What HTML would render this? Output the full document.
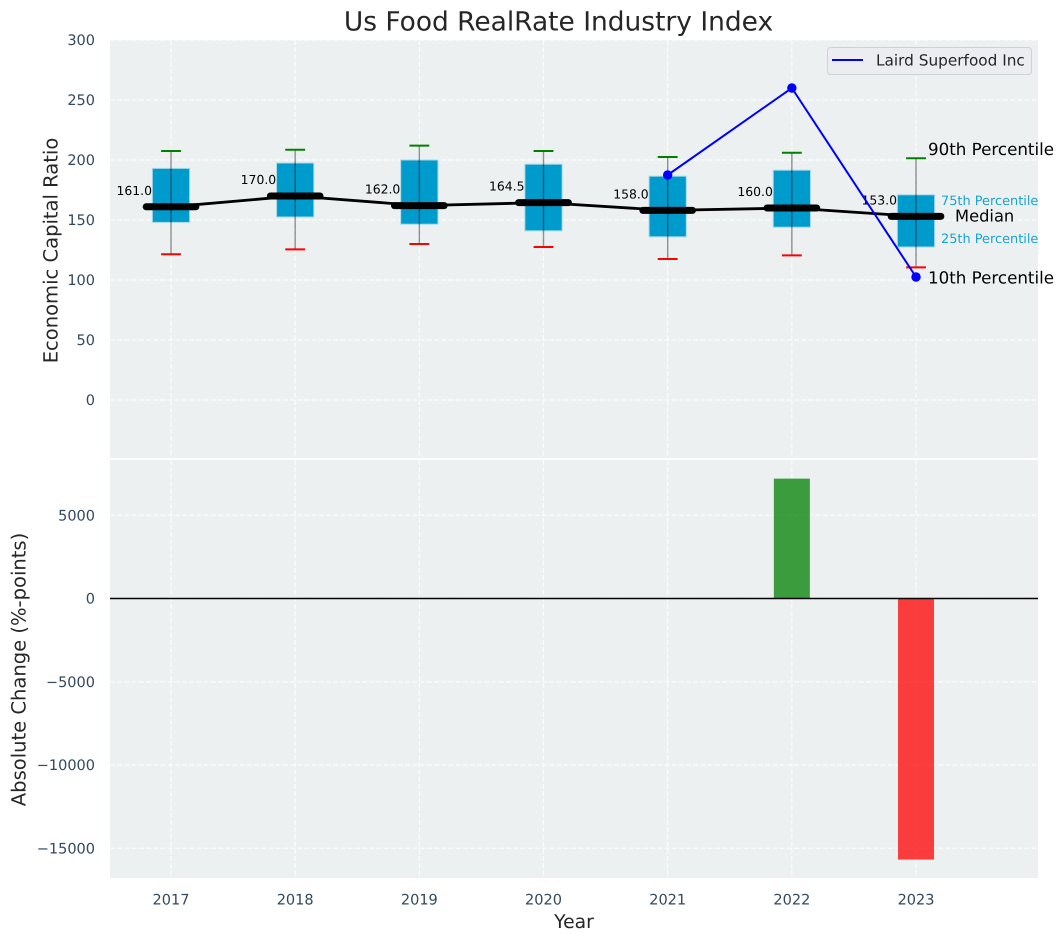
<!DOCTYPE html>
<html lang="en">
<head>
<meta charset="utf-8">
<title>Us Food RealRate Industry Index</title>
<style>
html,body{margin:0;padding:0;background:#fff;width:1063px;height:942px;overflow:hidden}
svg{display:block}
text{font-family:"DejaVu Sans","Liberation Sans",sans-serif;text-rendering:geometricPrecision}
</style>
</head>
<body>
<svg id="chart" xmlns="http://www.w3.org/2000/svg" width="1063" height="942" viewBox="0 0 1063 942">
  <rect x="0" y="0" width="1063" height="942" fill="#ffffff"/>
  <rect x="110" y="40" width="928" height="418" fill="#ecf0f1"/>
  <rect x="110" y="460" width="928" height="418" fill="#ecf0f1"/>
  <g id="grid"></g>
  <g id="boxes"></g>
  <g id="lines"></g>
  <g id="bars"></g>
  <g id="labels"></g>
  <text x="558.5" y="22" font-size="26.45" fill="#262626" text-anchor="middle" dominant-baseline="central">Us Food RealRate Industry Index</text>
  <text x="574" y="922.5" font-size="18.8" fill="#262626" text-anchor="middle" dominant-baseline="central">Year</text>
  <text transform="translate(51 250.5) rotate(-90)" font-size="19.55" fill="#262626" text-anchor="middle" dominant-baseline="central">Economic Capital Ratio</text>
  <text transform="translate(19 669.5) rotate(-90)" font-size="19.55" fill="#262626" text-anchor="middle" dominant-baseline="central">Absolute Change (%-points)</text>
  <g>
    <rect x="827.5" y="47.5" width="204" height="27" rx="3" fill="#ebedf0" stroke="#cfd1d4" stroke-width="1"/>
    <line x1="832" y1="60" x2="863" y2="60" stroke="#0000ff" stroke-width="2"/>
    <text x="876" y="60.5" font-size="15.3" fill="#262626" dominant-baseline="central">Laird Superfood Inc</text>
  </g>
  <g id="annotations"></g>
</svg>
<script>
const years = [2017, 2018, 2019, 2020, 2021, 2022, 2023];
const p90 = [207.5, 208.5, 212, 207.5, 202.5, 206, 201.5];
const p75 = [193, 197.5, 200, 196.5, 186.5, 191.5, 171];
const medians = [161, 170, 162, 164.5, 158, 160, 153];
const p25 = [148, 152.5, 146.5, 141, 136, 144, 127.5];
const p10 = [121.5, 125.5, 130, 127.5, 117.5, 120.5, 110.5];
const lairdValues = [null, null, null, null, 187.5, 260, 102.5];
const changes = [null, null, null, null, null, 7200, -15680];
const topTicks = [0, 50, 100, 150, 200, 250, 300];
const bottomTicks = [5000, 0, -5000, -10000, -15000];

const SVGNS = 'http://www.w3.org/2000/svg';
function xScale(v) { return 171 + (v - 2017) * 124.17; }
function yTop(v) { return 400 - v * 1.2; }
function yBottom(v) { return 598.5 - v * 0.01665; }
function mk(parent, tag, attrs, txt) {
  const el = document.createElementNS(SVGNS, tag);
  for (const k in attrs) el.setAttribute(k, attrs[k]);
  if (txt !== undefined) el.textContent = txt;
  parent.appendChild(el);
  return el;
}
function fmtTick(v) { return v < 0 ? '\u2212' + Math.abs(v) : String(v); }

const grid = document.getElementById('grid');
const boxes = document.getElementById('boxes');
const lines = document.getElementById('lines');
const bars = document.getElementById('bars');
const labels = document.getElementById('labels');
const annotations = document.getElementById('annotations');
const gridStyle = { stroke: '#ffffff', 'stroke-opacity': 0.8, 'stroke-width': 1.2, 'stroke-dasharray': '5 2.2', fill: 'none' };
const tickColor = '#34495e';

years.forEach(function (yr) {
  const x = xScale(yr);
  const g1 = mk(grid, 'line', Object.assign({ x1: x, x2: x, y1: 40, y2: 458 }, gridStyle));
  
  
  const g2 = mk(grid, 'line', Object.assign({ x1: x, x2: x, y1: 460, y2: 878 }, gridStyle));
  
  
  const t = mk(labels, 'text', { x: x, y: 900.5, 'font-size': 14.5, fill: tickColor, 'text-anchor': 'middle', 'dominant-baseline': 'central' }, String(yr));
  
  
});

topTicks.forEach(function (v) {
  const y = yTop(v);
  const g = mk(grid, 'line', Object.assign({ x1: 110, x2: 1038, y1: y, y2: y }, gridStyle));
  
  
  const t = mk(labels, 'text', { x: 95, y: y + 1, 'font-size': 14.5, fill: tickColor, 'text-anchor': 'end', 'dominant-baseline': 'central' }, fmtTick(v));
  
  
});

bottomTicks.forEach(function (v) {
  const y = yBottom(v);
  const g = mk(grid, 'line', Object.assign({ x1: 110, x2: 1038, y1: y, y2: y }, gridStyle));
  
  
  const t = mk(labels, 'text', { x: 95, y: y + 1, 'font-size': 14.5, fill: tickColor, 'text-anchor': 'end', 'dominant-baseline': 'central' }, fmtTick(v));
  
  
});

const BOX_HALF = 0.15, CAP_HALF = 0.08, MED_HALF = 0.2;
const px = function (d) { return d * 124.17; };

years.forEach(function (yr, i) {
  const x = xScale(yr);
  const box = mk(boxes, 'rect', {
    x: x - px(BOX_HALF), y: yTop(p75[i]), width: px(2 * BOX_HALF), height: yTop(p25[i]) - yTop(p75[i]),
    fill: '#009bcd', stroke: '#a9d8e8', 'stroke-width': 1
  });
  
  
  const w = mk(boxes, 'line', { x1: x, x2: x, y1: yTop(p90[i]), y2: yTop(p10[i]), stroke: '#000000', 'stroke-opacity': 0.42, 'stroke-width': 1.4 });
  
  
  const c1 = mk(boxes, 'line', { x1: x - px(CAP_HALF), x2: x + px(CAP_HALF), y1: yTop(p90[i]), y2: yTop(p90[i]), stroke: '#008000', 'stroke-width': 2 });
  
  
  const c2 = mk(boxes, 'line', { x1: x - px(CAP_HALF), x2: x + px(CAP_HALF), y1: yTop(p10[i]), y2: yTop(p10[i]), stroke: '#ff0000', 'stroke-width': 2 });
  
  
});

const medianPath = medians.map(function (v, i) { return (i ? 'L' : 'M') + xScale(years[i]) + ' ' + yTop(v); }).join(' ');
const medianLine = mk(lines, 'path', { d: medianPath, fill: 'none', stroke: '#000000', 'stroke-width': 2.8, 'stroke-linejoin': 'round' });



years.forEach(function (yr, i) {
  const x = xScale(yr), y = yTop(medians[i]);
  const m = mk(lines, 'line', { x1: x - px(MED_HALF), x2: x + px(MED_HALF), y1: y, y2: y, stroke: '#000000', 'stroke-width': 7, 'stroke-linecap': 'round' });
  
  
  const t = mk(lines, 'text', { x: x - 19, y: y - 16.5, 'font-size': 12.4, fill: '#000000', 'text-anchor': 'end', 'dominant-baseline': 'central' }, medians[i].toFixed(1));
  
  
});

const lairdPts = [];
lairdValues.forEach(function (v, i) { if (v !== null) lairdPts.push([xScale(years[i]), yTop(v)]); });
const lairdLine = mk(lines, 'path', { d: lairdPts.map(function (p, i) { return (i ? 'L' : 'M') + p[0] + ' ' + p[1]; }).join(' '), fill: 'none', stroke: '#0000ff', 'stroke-width': 2 });


lairdPts.forEach(function (p) {
  const c = mk(lines, 'circle', { cx: p[0], cy: p[1], r: 4.7, fill: '#0000ff' });
  
  
});

const BAR_HALF = 0.145;
changes.forEach(function (v, i) {
  if (v === null) return;
  const x = xScale(years[i]);
  const y0 = yBottom(0), y1 = yBottom(v);
  const b = mk(bars, 'rect', {
    x: x - px(BAR_HALF), y: Math.min(y0, y1), width: px(2 * BAR_HALF), height: Math.abs(y1 - y0),
    fill: v >= 0 ? '#008000' : '#ff0000', 'fill-opacity': 0.75
  });
  
  
});
const zeroLine = mk(bars, 'line', { x1: 110, x2: 1038, y1: yBottom(0), y2: yBottom(0), stroke: '#000000', 'stroke-width': 1.4 });



const last = years.length - 1;
const lastX = xScale(years[last]);
const a90 = mk(annotations, 'text', { x: lastX + 12, y: yTop(p90[last]) - 9, 'font-size': 16.7, fill: '#000000', 'dominant-baseline': 'central' }, '90th Percentile');


const a75 = mk(annotations, 'text', { x: lastX + 25, y: yTop(p75[last]) + 6.5, 'font-size': 12.9, fill: '#1aa3d1', 'dominant-baseline': 'central' }, '75th Percentile');


const aMed = mk(annotations, 'text', { x: lastX + 39, y: yTop(medians[last]) - 0.5, 'font-size': 16.3, fill: '#000000', 'dominant-baseline': 'central' }, 'Median');


const a25 = mk(annotations, 'text', { x: lastX + 25, y: yTop(p25[last]) - 7.5, 'font-size': 12.9, fill: '#1aa3d1', 'dominant-baseline': 'central' }, '25th Percentile');


const a10 = mk(annotations, 'text', { x: lastX + 12, y: yTop(p10[last]) + 10, 'font-size': 16.7, fill: '#000000', 'dominant-baseline': 'central' }, '10th Percentile');


</script>
</body>
</html>
